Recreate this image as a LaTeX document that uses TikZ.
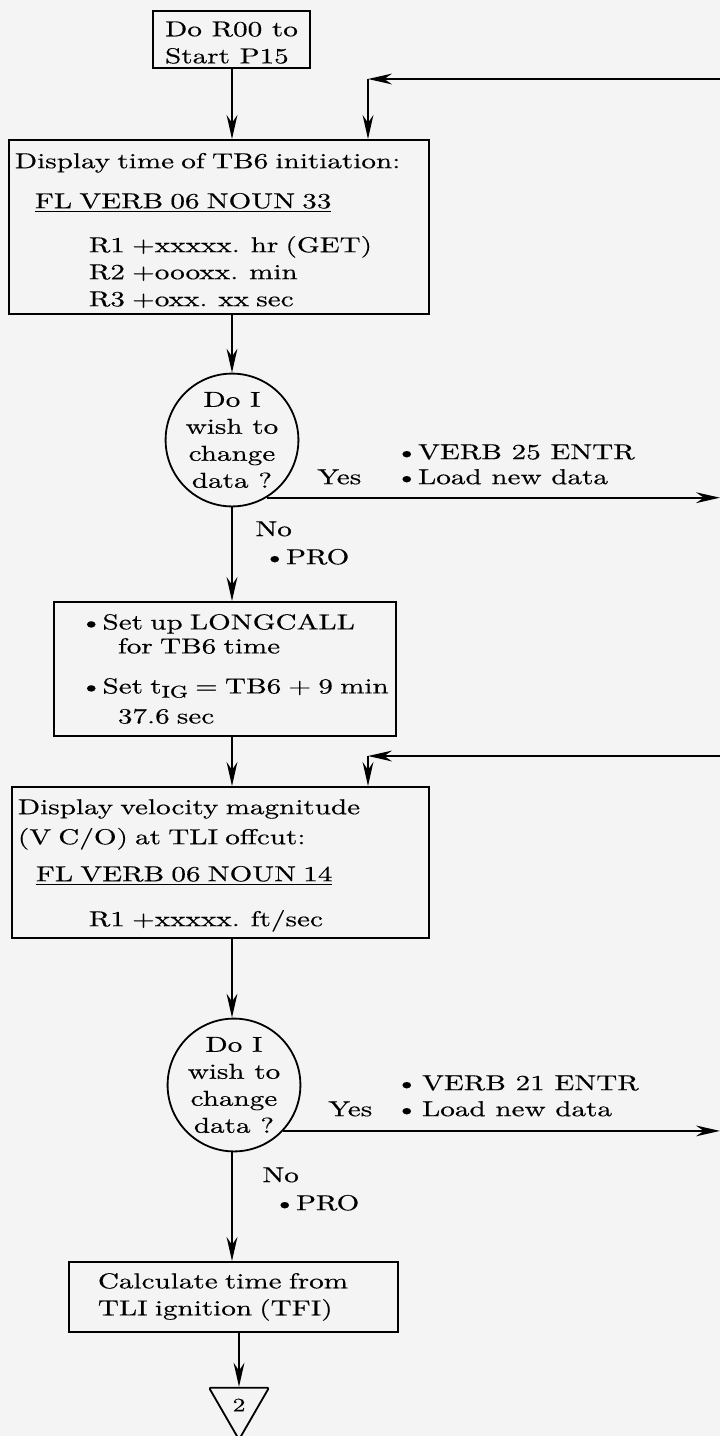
\documentclass[tikz,border=0pt]{standalone}
\usepackage{fontspec}
\newfontfamily\flowfont{lmroman10-regular.otf}[FakeStretch=1.35, FakeBold=0.4]
\newcommand{\flowtext}{\flowfont\fontsize{10.8}{13.5}\selectfont}
\usetikzlibrary{arrows.meta}
\usetikzlibrary{shapes.geometric}
\definecolor{paper}{RGB}{244,244,244}

\begin{document}
\begin{tikzpicture}[x=0.5pt, y=-0.5pt, >={Stealth[length=12pt,width=5.4pt]},
  font=\flowtext,
  box/.style={draw, line width=0.9pt, inner xsep=3pt, inner ysep=0pt, anchor=north west, align=left},
  decide/.style={draw, circle, line width=0.9pt, inner sep=0pt, minimum size=64pt, align=center},
  flow/.style={->, line width=0.9pt},
  lbl/.style={inner sep=0pt, anchor=north west, align=left}]
  % page, in pixels of the scan
  \fill[paper] (0,0) rectangle (720,1436);
  \useasboundingbox (0,0) rectangle (720,1436);
  \coordinate (axis) at (232,0);
  \coordinate (edge) at (720,0);
  % ---------------------------------------------------------------- first display
  \node[box, anchor=center, minimum width=78.5pt, minimum height=28.5pt] (start) at (231.5,39.5)
    {\rule{0pt}{10.5pt}Do R00 to\\Start P15};
  \node[box, text width=204pt, minimum height=87pt] (disp1) at (8,139)
    {\rule{0pt}{11.2pt}\mbox{Display time of TB6 initiation:}\\[6.5pt]
     \hspace*{10pt}\underline{FL VERB 06 NOUN 33}\\[8.5pt]
     \hspace*{37pt}R1 +xxxxx. hr (GET)\\
     \hspace*{37pt}R2 +oooxx. min\\
     \hspace*{37pt}R3 +oxx. xx sec};
  \node[decide] (dec1) at (232,440) {Do I\\wish to\\change\\data ?};
  \node[lbl] (yes1) at (317,469) {Yes};
  \node[lbl] (act1) at (395,444) {\textbullet VERB 25 ENTR\\[-1pt]\textbullet Load new data};
  \node[lbl] (no1) at (255,521) {No\\[0.5pt]\hspace*{4pt}\textbullet PRO};
  \node[box, text width=165pt, minimum height=67pt] (setup) at (53,601)
    {\hspace*{10pt}\textbullet Set up LONGCALL\\[-1.5pt]
     \hspace*{29pt}for TB6 time\\[6.5pt]
     \hspace*{10pt}\mbox{\textbullet Set t\raisebox{-0.45ex}{\fontsize{8.5}{9}\selectfont IG} = TB6 + 9 min}\\[1.5pt]
     \hspace*{29pt}37.6 sec};
  % ---------------------------------------------------------------- second display
  \node[box, text width=202.5pt, minimum height=75.5pt] (disp2) at (11,786)
    {\rule{0pt}{10.5pt}Display velocity magnitude\\[1.5pt]
     (V C/O) at TLI offcut:\\[5pt]
     \hspace*{9pt}\underline{FL VERB 06 NOUN 14}\\[9pt]
     \hspace*{35.5pt}R1 +xxxxx. ft/sec};
  \node[decide] (dec2) at (234,1085) {Do I\\wish to\\change\\data ?};
  \node[lbl] (yes2) at (328,1101) {Yes};
  \node[lbl] (act2) at (395,1075) {\textbullet\hspace{2pt}VERB 21 ENTR\\[-0.5pt]\textbullet\hspace{2pt}Load new data};
  \node[lbl] (no2) at (262,1167) {No\\[0.5pt]\hspace*{5.5pt}\textbullet PRO};
  \node[box, text width=158.5pt, minimum height=35pt] (calc) at (68,1261)
    {\hspace*{11.5pt}Calculate time from\\\hspace*{11.5pt}TLI ignition (TFI)};
  \node[draw, regular polygon, regular polygon sides=3, shape border rotate=180, minimum size=34.6pt,
    inner sep=0pt, line width=0.9pt, rounded corners=1pt, font=\flowfont\fontsize{9.5}{11}\selectfont] (conn2) at (239,1405) {2};
  % ---------------------------------------------------------------- connectors
  \coordinate (fb1) at (720,79);
  \coordinate (fb1c) at (368,79);
  \coordinate (fb2) at (720,756);
  \coordinate (fb2c) at (368,756);
  \draw[flow] (start.south -| axis) -- (disp1.north -| axis);
  \draw[flow] (fb1) -- (fb1c);
  \draw[flow] (fb1c) -- (fb1c |- disp1.north);
  \draw[flow] (disp1.south -| axis) -- (dec1.north);
  \draw[flow] (dec1.-59) -- (dec1.-59 -| edge);
  \draw[flow] (dec1.south) -- (setup.north -| axis);
  \draw[flow] (setup.south -| axis) -- (disp2.north -| axis);
  \draw[flow] (fb2) -- (fb2c);
  \draw[flow] (fb2c) -- (fb2c |- disp2.north);
  \draw[flow] (disp2.south -| axis) -- (dec2.north -| axis);
  \draw[flow] (dec2.-43) -- (dec2.-43 -| edge);
  \draw[flow] (dec2.south -| axis) -- (calc.north -| axis);
  \draw[flow] (calc.south -| conn2.north) -- (conn2.north);
\end{tikzpicture}
\end{document}
